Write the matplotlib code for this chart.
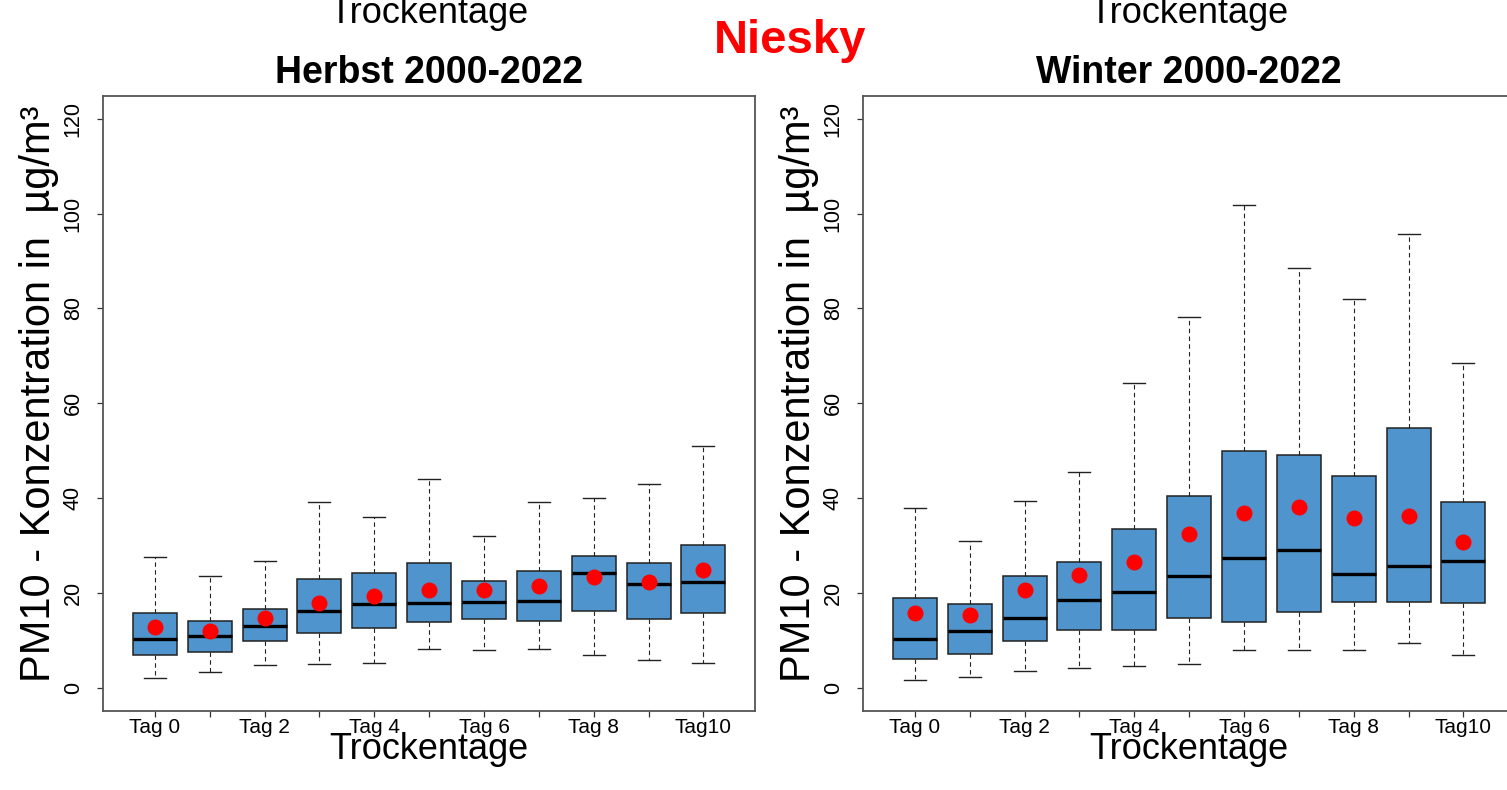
import matplotlib
matplotlib.use('Agg')
import matplotlib.pyplot as plt
import numpy as np

plt.rcParams['font.family'] = ['Liberation Sans', 'DejaVu Sans']

# Categories (dry days)
tage = ['Tag 0', 'Tag 1', 'Tag 2', 'Tag 3', 'Tag 4', 'Tag 5',
        'Tag 6', 'Tag 7', 'Tag 8', 'Tag 9', 'Tag10']

# Herbst 2000-2022
herbst_low = [2.1, 3.4, 4.8, 5.1, 5.3, 8.3, 8.0, 8.3, 7.0, 5.9, 5.3]
herbst_q1 = [7.0, 7.6, 9.8, 11.6, 12.6, 13.8, 14.6, 14.1, 16.3, 14.6, 15.9]
herbst_med = [10.4, 11.0, 13.0, 16.2, 17.8, 18.0, 18.2, 18.4, 24.2, 22.0, 22.3]
herbst_q3 = [15.7, 14.1, 16.6, 23.0, 24.3, 26.4, 22.5, 24.6, 27.9, 26.3, 30.2]
herbst_high = [27.7, 23.5, 26.7, 39.2, 36.0, 44.1, 32.0, 39.1, 40.0, 43.0, 51.1]
herbst_mean = [12.8, 12.1, 14.8, 18.0, 19.3, 20.7, 20.6, 21.5, 23.3, 22.4, 24.9]

# Winter 2000-2022
winter_low = [1.6, 2.2, 3.5, 4.1, 4.6, 5.1, 7.9, 8.1, 7.9, 9.4, 7.0]
winter_q1 = [6.2, 7.1, 9.9, 12.3, 12.3, 14.7, 13.9, 16.0, 18.1, 18.1, 17.9]
winter_med = [10.4, 12.1, 14.7, 18.6, 20.3, 23.6, 27.3, 29.0, 24.1, 25.7, 26.7]
winter_q3 = [19.0, 17.6, 23.7, 26.6, 33.6, 40.4, 50.0, 49.2, 44.7, 54.7, 39.1]
winter_high = [38.0, 30.9, 39.4, 45.5, 64.2, 78.2, 101.9, 88.5, 82.1, 95.6, 68.5]
winter_mean = [15.9, 15.4, 20.6, 23.8, 26.5, 32.4, 36.9, 38.2, 35.8, 36.3, 30.8]

W, H = 1507, 790
fig = plt.figure(figsize=(W / 100, H / 100), dpi=100)

box_col = '#4F94CD'  # steelblue3


def px(x, y):
    return x / W, 1 - y / H


def panel(left_px, low, q1, med, q3, high, mean, title):
    ax = fig.add_axes([left_px / W, 1 - 710.7 / H, 651.7 / W, (710.7 - 96) / H])
    stats = []
    for i in range(len(tage)):
        stats.append(dict(whislo=low[i], q1=q1[i], med=med[i], q3=q3[i],
                          whishi=high[i], mean=mean[i], fliers=[]))
    ax.bxp(stats, positions=np.arange(1, len(tage) + 1), widths=0.8,
           patch_artist=True, showmeans=True, showfliers=False,
           boxprops=dict(facecolor=box_col, edgecolor='#222222', linewidth=1.1),
           medianprops=dict(color='black', linewidth=2.4),
           whiskerprops=dict(color='#222222', linewidth=0.8, linestyle=(0, (4, 3))),
           capprops=dict(color='#222222', linewidth=1.0),
           capwidths=0.4,
           meanprops=dict(marker='o', markerfacecolor='red', markeredgecolor='red',
                          markersize=10.5))
    ax.set_xlim(0.06, 11.94)
    ax.set_ylim(-4.8, 124.8)
    ax.set_xticks(np.arange(1, len(tage) + 1))
    ax.set_xticklabels([t if i % 2 == 0 else '' for i, t in enumerate(tage)], fontsize=15)
    ax.set_yticks(np.arange(0, 121, 20))
    ax.set_yticklabels([str(v) for v in range(0, 121, 20)], fontsize=15.5,
                       rotation=90, va='center')
    ax.tick_params(axis='x', length=4, width=0.9, pad=1.5, color='#333333')
    ax.tick_params(axis='y', length=4, width=0.9, pad=10, color='#333333')
    for s in ax.spines.values():
        s.set_color('#555555')
        s.set_linewidth(1.3)

    cx = left_px + 651.7 / 2
    fig.text(*px(left_px - 53.5, 394), 'PM10 - Konzentration in  µg/m³', fontsize=30,
             rotation=90, rotation_mode='anchor', ha='center', va='baseline')
    fig.text(*px(cx, 759), 'Trockentage', fontsize=26, ha='center', va='baseline')
    fig.text(*px(cx, 23), 'Trockentage', fontsize=26, ha='center', va='baseline')
    fig.text(*px(cx, 83), title, fontsize=27, fontweight='bold', ha='center', va='baseline')
    return ax


panel(103.3, herbst_low, herbst_q1, herbst_med, herbst_q3, herbst_high, herbst_mean,
      'Herbst 2000-2022')
panel(863.3, winter_low, winter_q1, winter_med, winter_q3, winter_high, winter_mean,
      'Winter 2000-2022')

fig.text(*px(790, 53), 'Niesky', fontsize=34, fontweight='bold', color='red',
         ha='center', va='baseline')

fig.savefig('out.png', dpi=100)
